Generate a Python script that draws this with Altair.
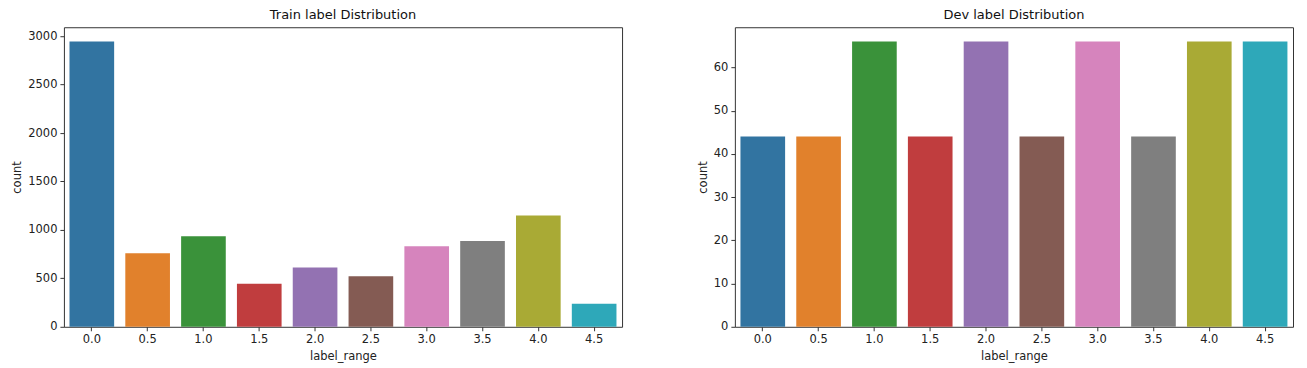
import altair as alt
import pandas as pd

labels = ["0.0", "0.5", "1.0", "1.5", "2.0", "2.5", "3.0", "3.5", "4.0", "4.5"]
train_counts = [2945, 760, 935, 443, 612, 522, 832, 886, 1148, 237]
dev_counts = [44, 44, 66, 44, 66, 44, 66, 44, 66, 66]
colors = ["#3274a1", "#e1812c", "#3a923a", "#c03d3e", "#9372b2",
          "#845b53", "#d684bd", "#7f7f7f", "#a9aa35", "#2ea8b9"]

train_df = pd.DataFrame({"label_range": labels, "count": train_counts})
dev_df = pd.DataFrame({"label_range": labels, "count": dev_counts})

FONT = "DejaVu Sans"


def panel(df, title, ymax, ystep):
    return (
        alt.Chart(df, title=alt.TitleParams(title, fontSize=13, fontWeight="normal",
                                            font=FONT, offset=5, color="#111"))
        .mark_bar()
        .encode(
            x=alt.X("label_range:N", sort=labels,
                    scale=alt.Scale(paddingInner=0.2, paddingOuter=0.1),
                    axis=alt.Axis(title="label_range", labelAngle=0)),
            y=alt.Y("count:Q", scale=alt.Scale(domain=[0, ymax], nice=False, zero=True),
                    axis=alt.Axis(title="count", format="d",
                                  values=list(range(0, int(ymax) + 1, ystep)))),
            color=alt.Color("label_range:N", sort=labels,
                            scale=alt.Scale(domain=labels, range=colors), legend=None),
        )
        .properties(width=559, height=300)
    )


left = panel(train_df, "Train label Distribution", max(train_counts) * 1.05, 500)
right = panel(dev_df, "Dev label Distribution", max(dev_counts) * 1.05, 10)

chart = (
    alt.hconcat(left, right, spacing=73)
    .properties(padding={"left": 3, "top": 0, "right": 5, "bottom": 5})
    .configure_view(stroke="#333", strokeWidth=1)
    .configure_axis(
        grid=False, domain=False, tickColor="#333", tickSize=4, tickWidth=1,
        labelFont=FONT, titleFont=FONT, labelFontSize=11.5, titleFontSize=11.5,
        titleFontWeight="normal", labelColor="#222", titleColor="#222",
        labelPadding=3, titlePadding=5,
    )
)

chart.save("out.html", embed_options={"renderer": "svg", "actions": False})
